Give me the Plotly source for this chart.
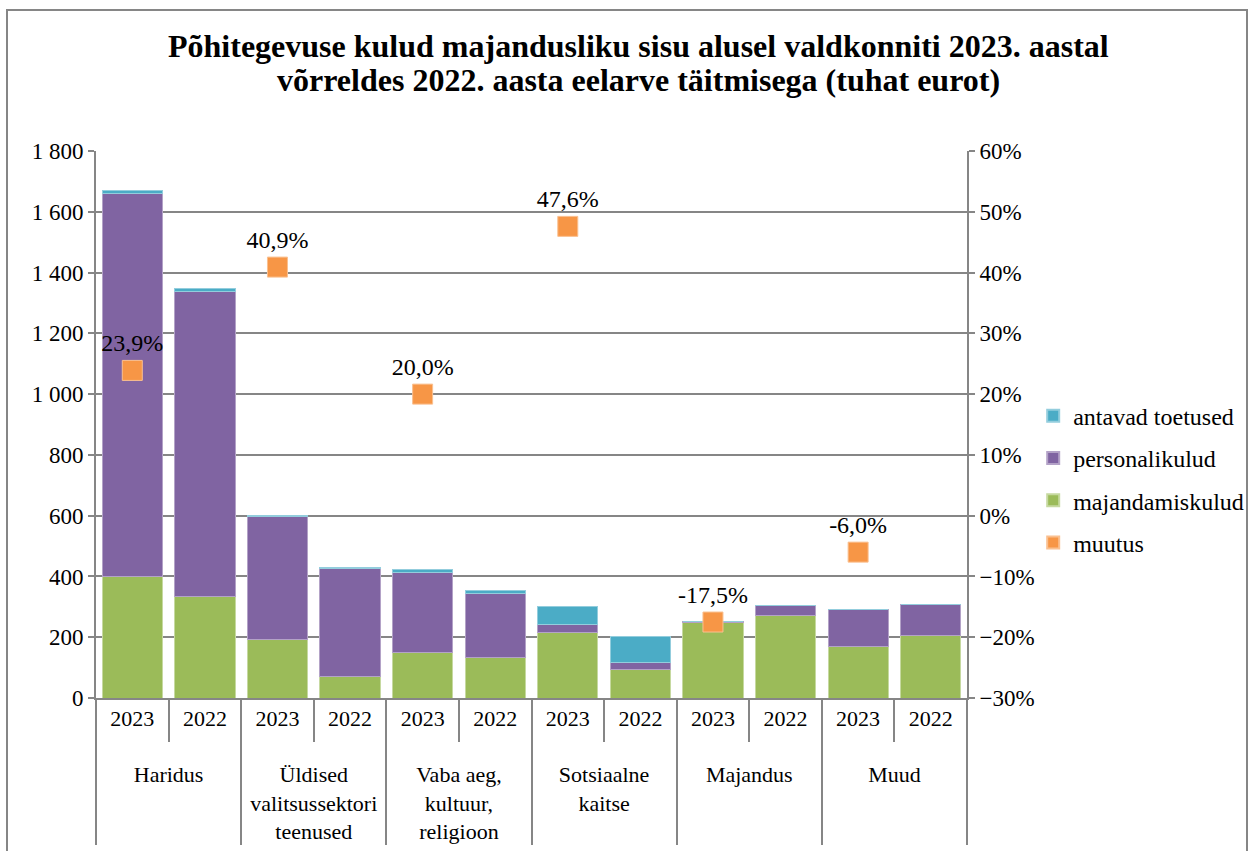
import plotly.graph_objects as go

groups = ["Haridus", "Üldised<br>valitsussektori<br>teenused", "Vaba aeg,<br>kultuur,<br>religioon",
          "Sotsiaalne<br>kaitse", "Majandus", "Muud"]
years = ["2023", "2022"]

majandamiskulud = [401, 335, 193, 70, 149, 133, 215, 94, 248, 270, 171, 206]
personalikulud = [1260, 1003, 404, 356, 263, 210, 26, 24, 5, 36, 119, 102]
antavad_toetused = [10, 10, 5, 4, 11, 12, 61, 86, 0, 0, 0, 0]
muutus = [0.239, 0.409, 0.200, 0.476, -0.175, -0.060]

title_lines = ["Põhitegevuse kulud majandusliku sisu alusel valdkonniti 2023. aastal",
               "võrreldes 2022. aasta eelarve täitmisega (tuhat eurot)"]

x_group = ["<br>" + g for g in groups for _ in years]
x_year = [y for _ in groups for y in years]
x_group_m = ["<br>" + g for g in groups]

FONT = "Liberation Serif, DejaVu Serif, serif"
GRID = "#868686"

fig = go.Figure()
fig.add_trace(go.Bar(x=[x_group, x_year], y=majandamiskulud, name="majandamiskulud", legendgroup="c",
                     marker=dict(color="#9BBB59", line=dict(color="#C6D9A0", width=1)), legendrank=3))
fig.add_trace(go.Bar(x=[x_group, x_year], y=personalikulud, name="personalikulud", legendgroup="b",
                     marker=dict(color="#8064A2", line=dict(color="#B3A2C7", width=1)), legendrank=2))
fig.add_trace(go.Bar(x=[x_group, x_year], y=antavad_toetused, name="antavad toetused", legendgroup="a",
                     marker=dict(color="#4BACC6", line=dict(color="#93CDDD", width=1)), legendrank=1))
fig.add_trace(go.Scatter(x=[x_group_m, ["2023"] * len(groups)], y=muutus, name="muutus", yaxis="y2",
                         legendgroup="d",
                         mode="markers+text", marker=dict(symbol="square", size=20, color="#F79646",
                                                          line=dict(color="#FAC090", width=1)),
                         texttemplate="%{y:.1%}", textposition="top center",
                         textfont=dict(family=FONT, size=24, color="black"), legendrank=4))

fig.update_layout(
    width=1256, height=851,
    barmode="stack", bargap=0.17,
    separators=", ",
    paper_bgcolor="white", plot_bgcolor="white",
    font=dict(family=FONT, size=22, color="black"),
    margin=dict(l=96, r=289, t=151, b=153, autoexpand=False),
    annotations=[
        dict(text="<b>" + title_lines[0] + "</b>", xref="paper", yref="paper", x=(638 - 96) / 871,
             y=(698 - 46) / 547, xanchor="center", yanchor="middle", showarrow=False,
             font=dict(family=FONT, size=32, color="black")),
        dict(text="<b>" + title_lines[1] + "</b>", xref="paper", yref="paper", x=(638 - 96) / 871,
             y=(698 - 80) / 547, xanchor="center", yanchor="middle", showarrow=False,
             font=dict(family=FONT, size=32, color="black")),
    ],
    xaxis=dict(type="multicategory", range=[-0.5, 11.5], automargin=False, showline=True, linecolor=GRID,
               linewidth=2, ticks="outside", ticklen=42, tickcolor=GRID, tickwidth=2,
               showdividers=True, dividercolor=GRID, dividerwidth=2,
               tickfont=dict(family=FONT, size=22), showgrid=False),
    yaxis=dict(range=[0, 1800], dtick=200, tickformat=",d", automargin=False, showgrid=True, gridcolor=GRID,
               gridwidth=2, showline=True, linecolor=GRID, linewidth=2, ticks="outside", tickcolor=GRID,
               ticklen=6, tickwidth=2, zeroline=False, tickfont=dict(family=FONT, size=23)),
    yaxis2=dict(range=[-0.30, 0.60], dtick=0.10, tickformat=".0%", overlaying="y", side="right",
                automargin=False, showgrid=False, showline=True, linecolor=GRID, linewidth=2,
                ticks="outside", tickcolor=GRID, ticklen=6, tickwidth=2, zeroline=False,
                tickfont=dict(family=FONT, size=23)),
    legend=dict(x=1.076, xanchor="left", y=0.40, yanchor="middle", font=dict(family=FONT, size=24),
                traceorder="grouped", tracegroupgap=8, itemsizing="constant", bgcolor="rgba(0,0,0,0)"),
    shapes=[dict(type="rect", xref="paper", yref="paper",
                 x0=(7 - 96) / 871, x1=(1247 - 96) / 871, y0=(698 - 870) / 547, y1=(698 - 10) / 547,
                 line=dict(color=GRID, width=2), fillcolor="rgba(0,0,0,0)", layer="below")],
)

fig.write_html("out.html", config={"displayModeBar": False},
               post_script="document.body.style.margin='0';")
